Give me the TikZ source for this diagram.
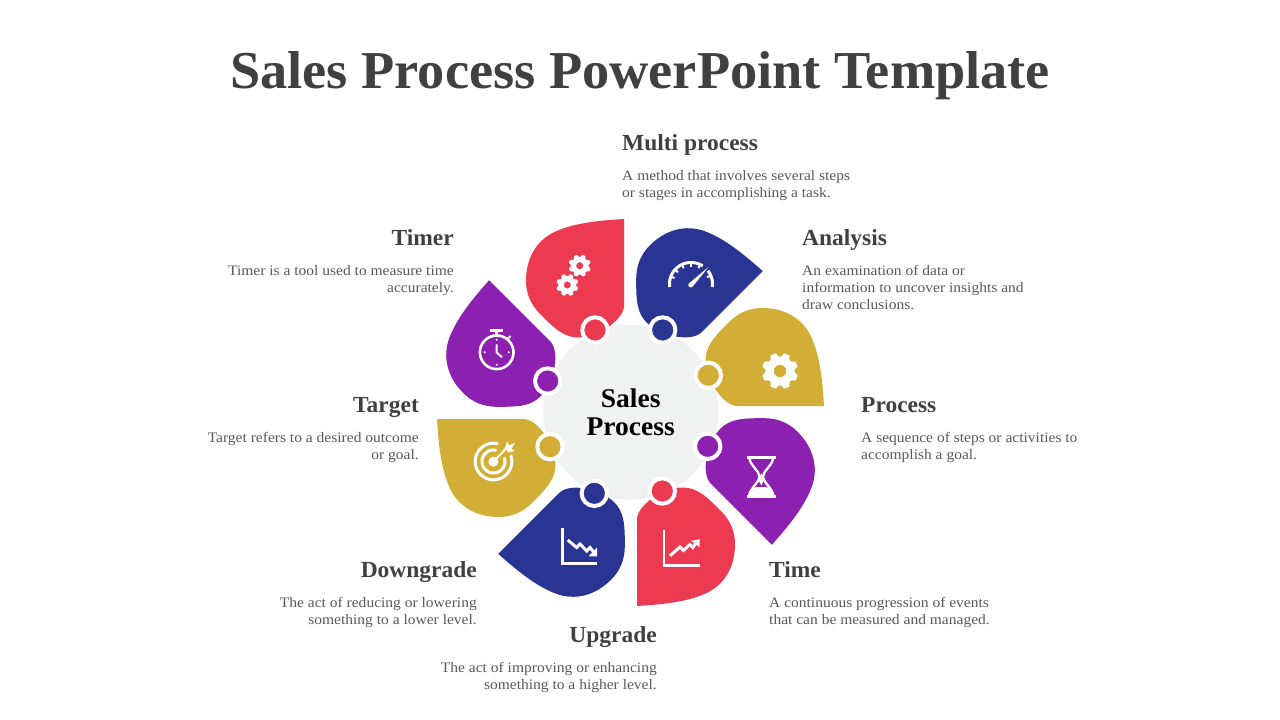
\documentclass[tikz,border=0pt]{standalone}
\usepackage{fontspec}
\setmainfont{Liberation Serif}
\newfontfamily\descfam[FakeStretch=1.07]{Liberation Serif}
\newfontfamily\headfam[FakeStretch=1.02]{Liberation Serif}
\definecolor{cred}{HTML}{EC3A50}
\definecolor{cblue}{HTML}{2A3493}
\definecolor{cgold}{HTML}{D2AE37}
\definecolor{cpurple}{HTML}{8C21B1}
\definecolor{cgray}{HTML}{F0F2F2}
\definecolor{chead}{HTML}{404040}
\definecolor{cdesc}{HTML}{595959}
\tikzset{
 titletext/.style={inner sep=0pt,anchor=base,text=chead,font={\headfam\bfseries\fontsize{53.3}{60}\selectfont}},
 headtext/.style={inner sep=0pt,text=chead,font={\headfam\bfseries\fontsize{23}{28}\selectfont}},
 desctext/.style={inner sep=0pt,text=cdesc,font={\descfam\fontsize{14.5}{17}\selectfont}},
 centertext/.style={inner sep=0pt,align=center,text=black,font={\headfam\bfseries\fontsize{27}{28}\selectfont}},
 dot/.style={draw=white,line width=4pt},
 iconline/.style={draw=white,line width=2.6pt,fill=none}
}
\newcommand{\fr}{\rule{0pt}{12pt}}
\newcommand{\gearicon}[6]{% x,y,outer,inner,hole,teeth
 \begin{scope}[shift={(#1,#2)}]
 \fill[white,even odd rule,rounded corners=0.9pt]
  (0:#4pt)
  \foreach \i [evaluate=\i as \a using {\i*360/#6}] in {1,...,#6}{
    -- ({\a-360/#6*0.87}:#4pt) -- ({\a-360/#6*0.71}:#3pt) -- ({\a-360/#6*0.29}:#3pt) -- ({\a-360/#6*0.13}:#4pt) -- (\a:#4pt)
  } -- cycle
  (0,0) circle[radius=#5pt];
 \end{scope}}
\begin{document}
\begin{tikzpicture}[x=1pt,y=-1pt]
\useasboundingbox (0,0) rectangle (1280,720);
\fill[white] (0,0) rectangle (1280,720);
\node[titletext] (title) at (640,88) {Sales Process PowerPoint Template};
% petals
\foreach \ang/\col in {0/cred,45/cblue,90/cgold,135/cpurple,180/cred,225/cblue,270/cgold,315/cpurple}{
 \begin{scope}[shift={(630.5,412.5)},rotate=-\ang]
 \fill[\col] (-6.5,-193.5) -- (-6.5,-107) .. controls (-6.5,-93) and (-32,-75) .. (-52,-75)
   .. controls (-66,-75) and (-75,-83) .. (-90,-98)
   .. controls (-100,-108) and (-104.5,-119) .. (-104.5,-132)
   .. controls (-104.5,-153) and (-95,-172) .. (-75,-181)
   .. controls (-55,-190) and (-30,-192) .. cycle;
 \end{scope}}
\fill[cgray] (630.7,412.3) circle[radius=87.5pt];
\foreach \px/\py/\col/\nm in {595/330/cred/a,662.7/330/cblue/b,708.3/375.3/cgold/c,707.7/446.3/cpurple/d,662.3/491/cred/e,594.3/493.3/cblue/f,550/446.7/cgold/g,547.7/381/cpurple/h}{
 \path[dot,fill=\col] (\px,\py) circle[radius=12.7pt];
}
% gears
\gearicon{579.7}{265.7}{11.3}{8.6}{3.6}{8}
\gearicon{567.3}{285}{11.3}{8.6}{3.6}{8}
\gearicon{780}{371}{18.3}{14.5}{6.3}{8}
% stopwatch
\draw[iconline] (496.7,352.3) circle[radius=16.8pt];
\fill[white] (490,328.8) rectangle (503.2,331.8);
\fill[white] (495.3,331) rectangle (498.1,336);
\draw[white,line width=2pt] (507,339.5) -- (510.5,336);
\draw[white,line width=2pt,line cap=round] (496.7,345) -- (496.7,352.5) -- (501.7,357);
\foreach \dx/\dy in {0/-12.5,12/0,0/12.5,-12/0}{\fill[white] (496.7+\dx,352.3+\dy) circle[radius=1.1pt];}
% speedometer
\draw[white,line width=3pt] plot[domain=172:303,samples=40] ({691+21.5*cos(\x)},{284+21.5*sin(\x)});
\draw[white,line width=3pt] plot[domain=322:368,samples=15] ({691+21.5*cos(\x)},{284+21.5*sin(\x)});
\foreach \t in {200,222,245,270,295,337}{\draw[white,line width=2pt] ({691+21*cos(\t)},{284+21*sin(\t)}) -- ({691+17.5*cos(\t)},{284+17.5*sin(\t)});}
\fill[white] (708.5,267) -- (692.6,286.6) -- (689,283.4) -- cycle;
\fill[white] (690.7,285) circle[radius=2.4pt];
% hourglass
\fill[white] (746.7,455.6) rectangle (775.7,458.6);
\fill[white] (746.7,495.2) rectangle (775.7,498);
\draw[white,line width=2.3pt] (749.5,458) .. controls (750,466) and (759,470) .. (759.5,476.5) .. controls (759,483) and (750,488) .. (749,496);
\draw[white,line width=2.3pt] (773,458) .. controls (772.5,466) and (763.5,470) .. (763,476.5) .. controls (763.5,483) and (772.5,488) .. (773.5,496);
\fill[white] (749,496) .. controls (750,491) and (753,488.5) .. (756,487) -- (766.5,487) .. controls (770,488.5) and (772.5,491) .. (773.5,496) -- cycle;
\fill[white] (761.3,473) -- (764,480) -- (761.3,485.5) -- (758.6,480) -- cycle;
% target
\draw[white,line width=3pt] plot[domain=-20:285,samples=60] ({493.5+18.3*cos(\x)},{461.5+18.3*sin(\x)});
\draw[white,line width=3pt] plot[domain=-20:285,samples=60] ({493.5+11.5*cos(\x)},{461.5+11.5*sin(\x)});
\fill[white] (493.3,461.7) circle[radius=5pt];
\draw[white,line width=2pt] (493.3,461.7) -- (507,447.5);
\fill[white] (505,448) -- (507,441.5) -- (509.5,445.5) -- (515,442.5) -- (511.5,449) -- (515,451) -- (508.5,452.5) -- cycle;
% down chart
\draw[white,line width=2.6pt] (562.3,528.3) -- (562.3,563.3) -- (597,563.3);
\draw[white,line width=3pt] (567.7,540) -- (576.7,547.5) -- (580,544) -- (586.7,551) -- (590,547.5) -- (594,552.5);
\fill[white] (597,556.3) -- (597,547.5) -- (588.5,556.3) -- cycle;
% up chart
\draw[white,line width=2.6pt] (664,530) -- (664,565.3) -- (699.6,565.3);
\draw[white,line width=3pt] (670,555.7) -- (680,547) -- (683.3,550.5) -- (690,544.5) -- (692.7,547.5) -- (696,543);
\fill[white] (699.6,539.2) -- (691,540.8) -- (699.6,547) -- cycle;
% center
\node[centertext] (ctr) at (630.7,412) {Sales\\Process};
% labels right side
\node[headtext,anchor=base west] (h1) at (622,150) {Multi process};
\node[desctext,anchor=north west,align=left] (d1) at (622,168) {\fr A method that involves several steps\\or stages in accomplishing a task.};
\node[headtext,anchor=base west] (h2) at (802,245) {Analysis};
\node[desctext,anchor=north west,align=left] (d2) at (802,263) {\fr An examination of data or\\information to uncover insights and\\draw conclusions.};
\node[headtext,anchor=base west] (h3) at (861,412) {Process};
\node[desctext,anchor=north west,align=left] (d3) at (861,430) {\fr A sequence of steps or activities to\\accomplish a goal.};
\node[headtext,anchor=base west] (h4) at (769,577) {Time};
\node[desctext,anchor=north west,align=left] (d4) at (769,595) {\fr A continuous progression of events\\that can be measured and managed.};
% labels left side
\node[headtext,anchor=base east] (h5) at (657,642) {Upgrade};
\node[desctext,anchor=north east,align=right] (d5) at (657,660) {\fr The act of improving or enhancing\\something to a higher level.};
\node[headtext,anchor=base east] (h6) at (477,577) {Downgrade};
\node[desctext,anchor=north east,align=right] (d6) at (477,595) {\fr The act of reducing or lowering\\something to a lower level.};
\node[headtext,anchor=base east] (h7) at (419,412) {Target};
\node[desctext,anchor=north east,align=right] (d7) at (419,430) {\fr Target refers to a desired outcome\\or goal.};
\node[headtext,anchor=base east] (h8) at (454,245) {Timer};
\node[desctext,anchor=north east,align=right] (d8) at (454,263) {\fr Timer is a tool used to measure time\\accurately.};
\end{tikzpicture}
\end{document}
